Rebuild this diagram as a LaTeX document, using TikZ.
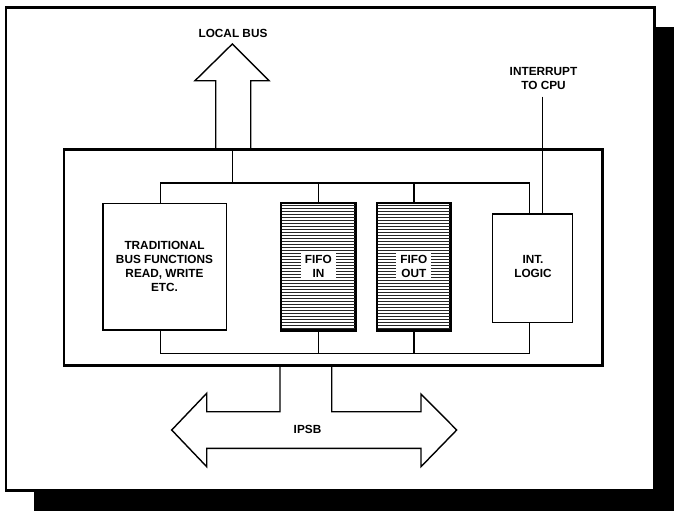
\documentclass[tikz,border=0pt]{standalone}
\usepackage{fontspec}
\setmainfont{Liberation Sans}
\usetikzlibrary{calc}
\begin{document}
\begin{tikzpicture}[x=1pt,y=-1pt,
  lbl/.style={font=\bfseries\fontsize{11.8}{14}\selectfont, align=center, inner sep=0pt},
  blk/.style={draw, line width=1.5pt, fill=white, inner sep=0pt},
  wire/.style={line width=1.4pt, line join=miter},
  heavy/.style={line width=2.3pt},
  hatch/.style={line width=1.2pt, black!85},
  cut/.style={lbl, fill=white, inner xsep=4pt, inner ysep=3pt}]
\useasboundingbox (0,0) rectangle (674,511);
% shadow and outer frame
\fill[black] (34,27) rectangle (674,511);
\draw[heavy, fill=white] (6,7.5) rectangle (654.5,490.5);

% main box
\node[draw, heavy, minimum width=538.2pt, minimum height=216pt, inner sep=0pt] (main) at (333.4,257.5) {};

% blocks
\node[blk, minimum width=123.7pt, minimum height=126.5pt] (trad) at (164.85,266.75) {};
\node[blk, minimum width=73.3pt, minimum height=126.5pt] (fin) at (318.35,266.75) {};
\node[blk, minimum width=72.3pt, minimum height=126.5pt] (fout) at (413.85,266.75) {};
\node[blk, minimum width=79.6pt, minimum height=108.7pt] (int) at (532.5,268.35) {};

% hatching of FIFOs
\foreach \b in {fin,fout}{
  \begin{scope}
    \clip (\b.north west) rectangle (\b.south east);
    \foreach \k in {1,...,42}
      \draw[hatch] ($(\b.north west)+(0,\k*3)$) -- ($(\b.north east)+(0,\k*3)$);
  \end{scope}
  \draw[line width=1.5pt] (\b.north west) rectangle (\b.south east);
}

% texts
\node[lbl] (tradt) at (164.5,266.5) {TRADITIONAL\\BUS FUNCTIONS\\READ, WRITE\\ETC.};
\node[cut] (fint) at (318.4,266) {FIFO\\IN};
\node[cut] (foutt) at (413.9,266) {FIFO\\OUT};
\node[lbl] (intt) at (533,266.3) {INT.\\LOGIC};
\node[lbl] (lbus) at (233,33.3) {LOCAL BUS};
\node[lbl] (irq) at (543.5,78) {INTERRUPT\\TO CPU};
\node[lbl] (ipsb) at (307.5,429.3) {IPSB};

% internal buses
\coordinate (tl) at (160.7,183);
\coordinate (tr) at (529.3,183);
\coordinate (jn) at (232.3,183);
\coordinate (bl) at (160.7,353.3);
\coordinate (br) at (529.3,353.3);
\draw[wire] (trad.north -| tl) -- (tl) -- (tr) -- (int.north -| tr);
\draw[wire] (main.north -| jn) -- (jn);
\draw[wire] (fin.north) -- (fin.north |- tl);
\draw[wire] (fout.north) -- (fout.north |- tl);
\draw[wire] (trad.south -| bl) -- (bl) -- (br) -- (int.south -| br);
\draw[wire] (fin.south) -- (fin.south |- bl);
\draw[wire] (fout.south) -- (fout.south |- bl);

% interrupt line
\coordinate (irqx) at (542.7,96.7);
\draw[wire] (irqx) -- (irqx |- int.north);

% local bus arrow
\draw[wire] (main.north -| 215.7,0) -- (215.7,80.7) -- (195,80.7) -- (232.3,44)
  -- (269,80.7) -- (250.7,80.7) -- (main.north -| 250.7,0);

% IPSB double arrow
\draw[wire] (main.south -| 331.7,0) -- (331.7,411.7) -- (421,411.7) -- (421,394)
  -- (456.7,430) -- (421,466.7) -- (421,448.3) -- (206.7,448.3) -- (206.7,466.7)
  -- (171.7,430) -- (206.7,393.3) -- (206.7,411.7) -- (280,411.7) -- (main.south -| 280,0);
\end{tikzpicture}
\end{document}
